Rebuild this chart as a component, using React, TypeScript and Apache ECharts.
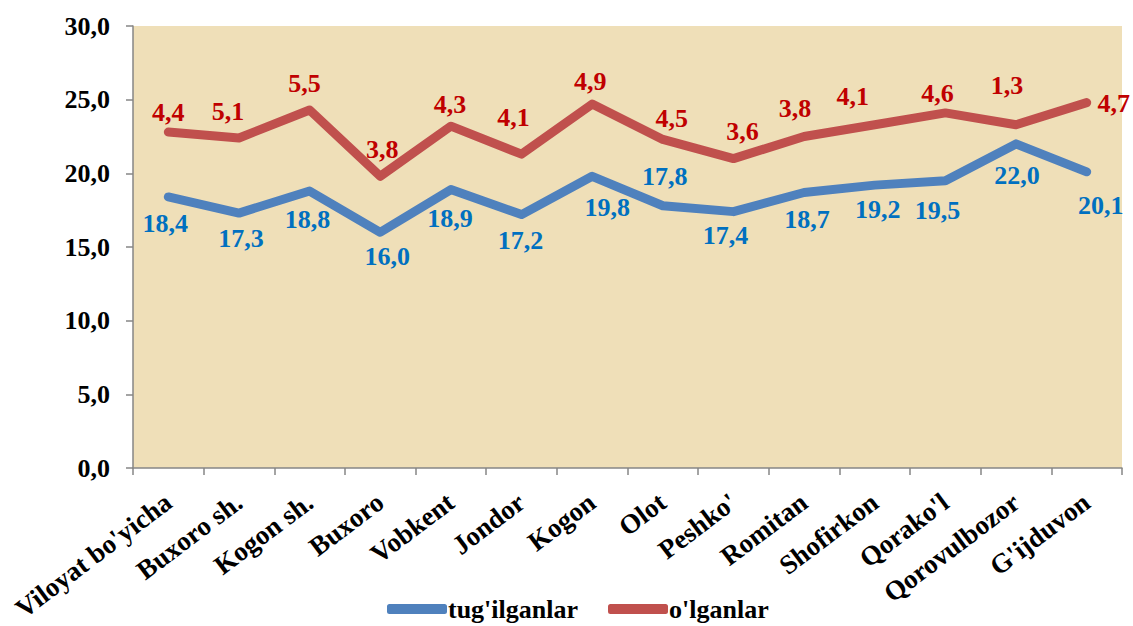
import React, { useEffect, useRef } from "react";
import * as echarts from "echarts";

const categories = [
  "Viloyat bo'yicha",
  "Buxoro sh.",
  "Kogon sh.",
  "Buxoro",
  "Vobkent",
  "Jondor",
  "Kogon",
  "Olot",
  "Peshko'",
  "Romitan",
  "Shofirkon",
  "Qorako'l",
  "Qorovulbozor",
  "G'ijduvon",
];

const births = [18.4, 17.3, 18.8, 16.0, 18.9, 17.2, 19.8, 17.8, 17.4, 18.7, 19.2, 19.5, 22.0, 20.1];
const deaths = [4.4, 5.1, 5.5, 3.8, 4.3, 4.1, 4.9, 4.5, 3.6, 3.8, 4.1, 4.6, 1.3, 4.7];

const seriesNames = ["tug'ilganlar", "o'lganlar"];
const yTicks = [0, 5, 10, 15, 20, 25, 30];

// label placement offsets (px) relative to each point
const birthLabelOffsets = [
  [-3, 27], [2, 25], [-2, 28], [7, 24], [-1, 29], [-1, 26], [15, 31],
  [2, -29], [-8, 24], [3, 27], [3, 24], [-8, 30], [1, 32], [14, 34],
];
const deathLabelOffsets = [
  [0, -20], [-11, -26], [-5, -26], [2, -27], [-1, -22], [-8, -37], [-2, -23],
  [9, -21], [9, -27], [-9, -28], [-22, -28], [-8, -19], [-9, -39], [27, 1],
];

const FONT = "Liberation Serif, Times New Roman, serif";

export default function App() {
  const ref = useRef<HTMLDivElement>(null);

  useEffect(() => {
    if (!ref.current) return;
    const chart = echarts.init(ref.current, undefined, { renderer: "svg" });
    const fmt = (v: number) => v.toFixed(1).replace(".", ",");

    const labelBase = {
      show: true,
      position: "inside",
      fontFamily: FONT,
      fontWeight: "bold",
      fontSize: 26,
      formatter: (p: any) => fmt(Number(p.value)),
    };

    chart.setOption({
      animation: false,
      backgroundColor: "#ffffff",
      textStyle: { fontFamily: FONT },
      grid: {
        left: 133,
        right: 11,
        top: 26,
        bottom: 158,
        show: true,
        backgroundColor: "#EFDFB8",
        borderWidth: 0,
        containLabel: false,
      },
      legend: {
        data: seriesNames.map((n) => ({ name: n, icon: "roundRect" })),
        left: 382,
        top: 591,
        itemWidth: 60,
        itemHeight: 10,
        itemGap: 30,
        textStyle: {
          fontFamily: FONT,
          fontWeight: "bold",
          fontSize: 26,
          color: "#000",
          padding: [0, 0, 0, -4],
        },
      },
      xAxis: {
        type: "category",
        data: categories,
        boundaryGap: true,
        axisLine: { show: true, lineStyle: { color: "#868686", width: 1.5 } },
        axisTick: { show: true, length: 7, lineStyle: { color: "#868686", width: 1.5 } },
        axisLabel: {
          interval: 0,
          rotate: 37,
          margin: 31,
          fontFamily: FONT,
          fontWeight: "bold",
          fontSize: 27,
          color: "#000",
        },
        splitLine: { show: false },
      },
      yAxis: {
        type: "value",
        min: yTicks[0],
        max: yTicks[yTicks.length - 1],
        interval: 5,
        axisLine: { show: true, lineStyle: { color: "#868686", width: 1.5 } },
        axisTick: { show: true, length: 7, lineStyle: { color: "#868686", width: 1.5 } },
        axisLabel: {
          margin: 23,
          fontFamily: FONT,
          fontWeight: "bold",
          fontSize: 26,
          color: "#000",
          formatter: (v: number) => fmt(v),
        },
        splitLine: { show: false },
      },
      series: [
        {
          name: seriesNames[0],
          type: "line",
          stack: "total",
          symbol: "circle",
          symbolSize: 1,
          itemStyle: { color: "#4F81BD" },
          lineStyle: { color: "#4F81BD", width: 9, cap: "round", join: "round" },
          emphasis: { disabled: true },
          label: { ...labelBase, color: "#0070C0" },
          data: births.map((v, i) => ({
            value: v,
            label: { offset: birthLabelOffsets[i] },
          })),
        },
        {
          name: seriesNames[1],
          type: "line",
          stack: "total",
          symbol: "circle",
          symbolSize: 1,
          itemStyle: { color: "#C0504D" },
          lineStyle: { color: "#C0504D", width: 9, cap: "round", join: "round" },
          emphasis: { disabled: true },
          label: { ...labelBase, color: "#C00000" },
          data: deaths.map((v, i) => ({
            value: v,
            label: { offset: deathLabelOffsets[i] },
          })),
        },
      ],
    });

    return () => chart.dispose();
  }, []);

  return (
    <div
      ref={ref}
      style={{ position: "fixed", left: 0, top: 0, width: 1133, height: 626 }}
    />
  );
}
